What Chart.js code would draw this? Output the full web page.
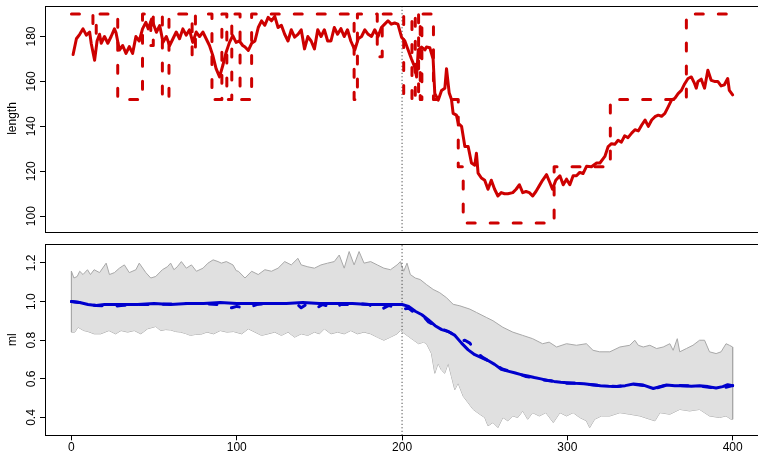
<!DOCTYPE html>
<html>
<head>
<meta charset="utf-8">
<script src="https://cdn.jsdelivr.net/npm/chart.js@4"></script>
<style>
html, body { margin: 0; padding: 0; background: #fff; overflow: hidden; }
#wrap { position: relative; width: 758px; height: 454px; overflow: hidden; }
canvas { position: absolute; left: 0; }
#top { top: 0; }
#bottom { top: 237px; }
</style>
</head>
<body>
<div id="wrap">
  <canvas id="top" width="762" height="237"></canvas>
  <canvas id="bottom" width="762" height="217"></canvas>
</div>
<script>
// ---- data ----
const xTicks = [0, 100, 200, 300, 400];
const lengthTicks = [100, 120, 140, 160, 180];
const mlTicks = [0.4, 0.6, 0.8, 1.0, 1.2];
const changePoint = 200;

// observed length (solid red)
const lengthObs = [[1,172],[3,179],[5,181],[7,183.4],[9,180.6],[11,182],[12,176.8],[14,169.4],[15.5,178],[17,181],
  [18,177],[20,180],[22,177],[24,180],[26,183.4],[27,181.6],[29,174],[31,176],[33,172.5],[35,175.5],
  [37,172.5],[39,180],[41,178],[43,183.4],[45,186.3],[46.5,183.4],[48.5,187.8],[51.4,181.9],[53.4,184.9],[55.4,177.4],
  [57.4,180],[59.4,176],[61.4,179],[63.4,182],[65.4,179],[67.4,183.4],[69.4,180.6],[71.4,183],[73.4,177.4],[75.5,182],
  [77.5,180],[79.5,182],[81.5,179],[83.5,176],[85.5,171.6],[87.5,165.7],[89.6,162],[91.6,167.2],[93.6,173],[95.6,177.4],
  [97.6,180.4],[99.6,177.4],[101.6,178],[103.6,176],[105,175.3],[107,173.8],[109,177],[111,178],[113,184],[115,187],
  [117,185],[119,188.5],[121,187],[123,189],[125,184],[127,185],[129,181],[131,178],[133,183],[135,179.7],
  [137,181],[139,183],[141,174.5],[143,180],[145,178],[147,174.5],[149,183],[151,180],[153,183],[155,178],
  [157,178],[159,184],[161,181],[163,183.5],[165,180],[167,183],[169,178],[171.4,174],[173.5,179],[175.5,180],
  [177.5,183],[179.5,181],[181.5,180],[183.5,183],[185.5,180],[187.5,184],[189.5,185.5],[191.5,187],[193.5,185.5],[195.5,186],
  [197.5,185.5],[199.7,179.7],[201.7,178],[203.7,174],[205.7,170],[207.7,166.4],[208.8,162],[209.8,174],[211.8,175.3],[213.8,174],
  [214.8,175.3],[216.8,175],[218.8,170],[219.8,154.6],[221.9,151.7],[223.9,156],[225.9,157],[226.9,165.7],[228.5,155],[229.9,152],
  [230.9,145.8],[232.9,145],[234,141.4],[236,140],[238,131],[240,131],[242,123.7],[244,122.7],[245,128],[246,119.2],
  [248,117],[250,116],[252,112],[254,116],[256,112],[258,109],[260,110.5],[262,110],[264,110],[267,110.5],
  [269,112],[271,114],[273,110.5],[275,111],[277,110.5],[279,109],[281,111],[283,113.5],[285,116],[287.4,118.5],
  [289.4,115],[291,112],[293,116],[295.5,118],[297.5,114],[299.5,116.5],[301.5,114],[303.5,118],[305.5,118],[307.5,119.5],
  [309.5,119],[311.6,122.2],[314.6,122],[317.7,123.7],[319.7,123.7],[322.7,126.6],[324.7,131],[326.7,132.3],[328.7,132],[330.7,133.8],
  [332.7,133],[334.7,135.8],[336.7,135],[338.9,137],[340.9,138.5],[343,138],[345,140.6],[347,142.8],[349,140],[351,142.8],
  [353,144.3],[355,145],[357,144.5],[359,145.8],[361,148.7],[363,151.7],[365,152.5],[367,154.6],[369,156],[371,159],
  [373,161.3],[375,162],[377,159],[378,157],[379,160],[381,161],[383,157],[385,165],[387,160.5],[389,160],
  [391,160],[393,158],[395,158.5],[397,161.3],[398,156],[400,154]];

// state path (dashed red, value holds from x until next x)
const lengthState = [[0,190],[13,181],[15,190],[28,152],[43,190],[48,176],[49.5,190],[55,152],[59,190],[73,171],
  [75,190],[85,152],[91,190],[94,152],[97,190],[102,152],[109,190],[171,152],[173,190],[185,171],
  [188,190],[201,152],[206,190],[208,152],[210,190],[211,152],[212,190],[219,152],[234,122],[237,97],
  [292,122],[326,152],[372,190],[400,190]];

// ml fit (solid blue)
const mlFit = [[0,1.0],[5,0.995],[10,0.985],[15,0.98],[20,0.985],[30,0.985],[40,0.985],[50,0.99],[60,0.985],[70,0.99],
  [80,0.99],[90,0.995],[100,0.99],[110,0.99],[120,0.99],[130,0.99],[140,0.995],[150,0.99],[160,0.99],[170,0.99],
  [180,0.985],[190,0.985],[200,0.985],[204,0.975],[208,0.95],[212,0.932],[216,0.905],[220,0.875],[224,0.855],[228,0.845],
  [232,0.825],[236,0.785],[240,0.75],[244,0.725],[248,0.71],[252,0.695],[256,0.675],[260,0.65],[264,0.64],[268,0.632],
  [272,0.622],[276,0.615],[280,0.607],[284,0.6],[288,0.592],[292,0.587],[296,0.583],[300,0.58],[305,0.577],[310,0.575],
  [315,0.57],[320,0.565],[325,0.562],[330,0.56],[335,0.565],[340,0.573],[346,0.568],[352,0.55],[356,0.56],[360,0.568],
  [365,0.565],[370,0.565],[375,0.562],[380,0.565],[385,0.56],[390,0.553],[394,0.56],[397,0.57],[400,0.565]];

// ml path (dashed blue)
const mlPath = [[0,1.0],[5,0.995],[10,0.985],[15,0.98],[20,0.978],[25,0.975],[30,0.98],[40,0.985],[50,0.985],[60,0.988],
  [70,0.99],[80,0.99],[88,0.985],[93,0.97],[97,0.968],[100,0.975],[103,0.97],[107,0.968],[112,0.985],[120,0.99],
  [130,0.99],[136,0.99],[139,0.968],[142,0.985],[148,0.965],[152,0.985],[159,0.965],[163,0.985],[170,0.985],[174,0.988],
  [180,0.985],[184,0.96],[188,0.962],[192,0.98],[197,0.965],[200,0.962],[204,0.965],[208,0.94],[212,0.932],[216,0.895],
  [220,0.876],[224,0.86],[229,0.84],[233,0.82],[236,0.795],[238,0.8],[241,0.785],[243,0.76],[246,0.73],[249,0.71],
  [253,0.69],[257,0.67],[261,0.65],[265,0.64],[270,0.628],[275,0.612],[280,0.605],[285,0.595],[290,0.59],[297,0.578],
  [303,0.578],[310,0.572],[315,0.57],[320,0.565],[330,0.56],[340,0.572],[346,0.566],[352,0.548],[360,0.568],[370,0.565],
  [380,0.563],[390,0.552],[395,0.555],[400,0.565]];

// band upper / lower (grey)
const bandUp = [[0,1.157],[1.5,1.122],[3.5,1.13],[5,1.157],[7,1.14],[9.7,1.165],[11.5,1.14],[13.7,1.165],[17,1.15],[21,1.199],
  [23,1.14],[26,1.15],[29,1.173],[32,1.19],[35,1.15],[39,1.165],[41,1.199],[45,1.15],[48,1.122],[51,1.13],
  [55,1.165],[58,1.18],[60,1.199],[62,1.165],[64,1.18],[66.5,1.207],[69.5,1.173],[72.6,1.19],[75.6,1.157],[79.6,1.173],
  [82.6,1.199],[85.7,1.216],[88.7,1.207],[90.7,1.199],[93.7,1.207],[97.7,1.19],[99.7,1.16],[101,1.157],[105,1.122],[109,1.157],
  [113,1.14],[117,1.165],[121,1.157],[125,1.173],[129,1.207],[133,1.19],[137,1.224],[139,1.19],[143,1.18],[147,1.173],
  [151,1.19],[155,1.199],[159,1.207],[162,1.241],[165,1.173],[168,1.259],[171,1.19],[174,1.259],[177,1.199],[181,1.207],
  [185,1.19],[189,1.173],[193,1.165],[197,1.19],[199,1.207],[201,1.157],[203,1.199],[205,1.14],[208,1.122],[211,1.114],
  [214.8,1.088],[218.8,1.063],[222.8,1.046],[226.9,1.02],[230.9,0.986],[235,0.978],[241,0.961],[245,0.944],[251,0.918],[255,0.901],
  [261,0.867],[267,0.842],[273,0.825],[279,0.808],[285,0.782],[289,0.79],[293.5,0.765],[299.5,0.782],[305.5,0.774],[311.5,0.782],
  [315.5,0.748],[319.6,0.74],[325.7,0.74],[331.8,0.765],[337.8,0.774],[340.8,0.8],[342.9,0.774],[345.9,0.765],[349.9,0.774],[354,0.757],
  [358,0.765],[362,0.782],[364,0.748],[366.5,0.808],[368,0.74],[372,0.757],[376,0.774],[380,0.8],[383,0.8],[386,0.74],
  [390,0.731],[393,0.74],[396,0.782],[398,0.774],[400,0.765]];

const bandLo = [[0,0.842],[2,0.842],[4,0.867],[7.5,0.85],[10,0.845],[13.7,0.833],[17.7,0.833],[22.7,0.85],[26.7,0.833],[30,0.85],
  [34,0.842],[38,0.85],[42,0.833],[46,0.859],[51,0.871],[54,0.85],[57,0.855],[60,0.853],[63,0.845],[66,0.842],
  [69,0.835],[72,0.825],[75,0.83],[78,0.83],[82,0.842],[86,0.833],[90,0.85],[94,0.842],[98,0.845],[103,0.833],
  [107,0.859],[111,0.842],[115,0.825],[119,0.833],[123,0.842],[127,0.825],[131,0.842],[135,0.816],[139,0.833],[143,0.825],
  [147,0.842],[150,0.833],[153,0.859],[157,0.833],[161,0.842],[165,0.833],[169,0.85],[173,0.833],[177,0.842],[181,0.833],
  [185,0.816],[189,0.8],[193,0.816],[197,0.833],[199,0.85],[203,0.825],[207,0.8],[210,0.782],[213,0.79],[214.8,0.782],
  [217.8,0.731],[219.8,0.629],[221.8,0.68],[223.8,0.646],[225.8,0.629],[227.9,0.68],[229.9,0.612],[231.9,0.544],[233.9,0.578],[237,0.51],
  [240,0.476],[243,0.442],[247,0.417],[250,0.4],[252,0.357],[255,0.374],[258,0.348],[261,0.4],[264,0.383],[267,0.408],
  [270,0.4],[273,0.434],[276,0.391],[279,0.425],[283,0.408],[287,0.425],[291.5,0.374],[295.5,0.425],[299.5,0.408],[303.5,0.425],
  [307.5,0.4],[311.5,0.383],[313.5,0.348],[316.5,0.391],[320.6,0.408],[325.7,0.408],[331.8,0.425],[337.8,0.417],[343.9,0.408],[349.9,0.391],
  [353,0.383],[356,0.425],[362,0.417],[368,0.442],[374,0.434],[380,0.442],[386,0.408],[392,0.4],[396,0.408],[399,0.391],
  [400,0.391]];

// axis ranges
const xMin = -16, xMax = 416;
const lenMin = 93.28, lenMax = 193.72;
const mlMin = 0.308, mlMax = 1.297;

// ---- drawing ----
const RED = '#CD0000';
const BLUE = '#0000CD';
const FONT = { family: "'Liberation Sans', Arial, sans-serif", size: 12 };

const pts = arr => arr.map(p => ({ x: p[0], y: p[1] }));

const frame = {
  id: 'frame',
  afterDatasetsDraw(chart) {
    const a = chart.chartArea, ctx = chart.ctx;
    ctx.save();
    ctx.strokeStyle = '#000';
    ctx.lineWidth = 1;
    ctx.strokeRect(Math.round(a.left) + 0.5, Math.round(a.top) + 0.5,
      Math.round(a.right - a.left), Math.round(a.bottom - a.top));
    ctx.restore();
  }
};

function yAxis(min, max, ticks, title, pad, fmt) {
  return {
    type: 'linear', min: min, max: max,
    afterBuildTicks: s => { s.ticks = ticks.map(v => ({ value: v })); },
    afterFit: s => { s.width = 45; },
    grid: { drawOnChartArea: false, drawTicks: true, tickLength: 5, color: '#000' },
    border: { display: false },
    ticks: { minRotation: 90, maxRotation: 90, crossAlign: 'center', padding: pad,
      autoSkip: false, callback: fmt, color: '#000', font: FONT },
    title: { display: true, text: title, padding: { top: 5, bottom: 0 }, font: FONT, color: '#000' }
  };
}

function vLine(lo, hi) {
  return {
    data: [{ x: changePoint, y: lo }, { x: changePoint, y: hi }],
    borderColor: '#222', borderWidth: 1, borderDash: [1, 2.5], pointRadius: 0, order: 5
  };
}

const common = {
  responsive: false,
  animation: false,
  events: [],
  parsing: false,
  plugins: { legend: { display: false }, tooltip: { enabled: false } },
  elements: { point: { radius: 0 }, line: { tension: 0, borderJoinStyle: 'round' } }
};

new Chart(document.getElementById('top').getContext('2d'), {
  type: 'line',
  data: {
    datasets: [
      { data: pts(lengthObs), borderColor: RED, borderWidth: 3, borderCapStyle: 'round', order: 0 },
      { data: pts(lengthState), stepped: true, borderColor: RED, borderWidth: 3,
        borderDash: [8, 15], borderCapStyle: 'round', order: 1 },
      vLine(lenMin, lenMax)
    ]
  },
  options: Object.assign({}, common, {
    layout: { padding: { left: 0, right: 2.9, top: 5, bottom: 5.5 } },
    scales: {
      x: { type: 'linear', min: xMin, max: xMax, display: false },
      y: yAxis(lenMin, lenMax, lengthTicks, 'length', -1.5, v => String(v))
    }
  }),
  plugins: [frame]
});

new Chart(document.getElementById('bottom').getContext('2d'), {
  type: 'line',
  data: {
    datasets: [
      { data: pts(mlFit), borderColor: BLUE, borderWidth: 3, borderCapStyle: 'round', order: 0 },
      { data: pts(mlPath), borderColor: BLUE, borderWidth: 3, borderDash: [8, 15],
        borderCapStyle: 'round', order: 1 },
      { data: pts(bandUp), borderColor: '#a8a8a8', borderWidth: 1, fill: '+1',
        backgroundColor: '#e0e0e0', order: 6 },
      { data: pts(bandLo), borderColor: '#a8a8a8', borderWidth: 1, order: 7 },
      { data: pts([bandUp[0], bandLo[0]]), borderColor: '#a8a8a8', borderWidth: 1, order: 4 },
      { data: pts([bandUp[bandUp.length - 1], bandLo[bandLo.length - 1]]), borderColor: '#a8a8a8',
        borderWidth: 1, order: 4 },
      vLine(mlMin, mlMax)
    ]
  },
  options: Object.assign({}, common, {
    layout: { padding: { left: 0, right: 2.9, top: 4.7, bottom: 0 } },
    scales: {
      x: {
        type: 'linear', min: xMin, max: xMax,
        afterBuildTicks: s => { s.ticks = xTicks.map(v => ({ value: v })); },
        afterFit: s => { s.height = 18.7; },
        grid: { drawOnChartArea: false, drawTicks: true, tickLength: 5, color: '#000' },
        border: { display: false },
        ticks: { maxRotation: 0, minRotation: 0, padding: 0, autoSkip: false, color: '#000', font: FONT,
          callback: v => String(v) }
      },
      y: yAxis(mlMin, mlMax, mlTicks, 'ml', 0, v => v.toFixed(1))
    }
  }),
  plugins: [frame]
});
</script>
</body>
</html>
